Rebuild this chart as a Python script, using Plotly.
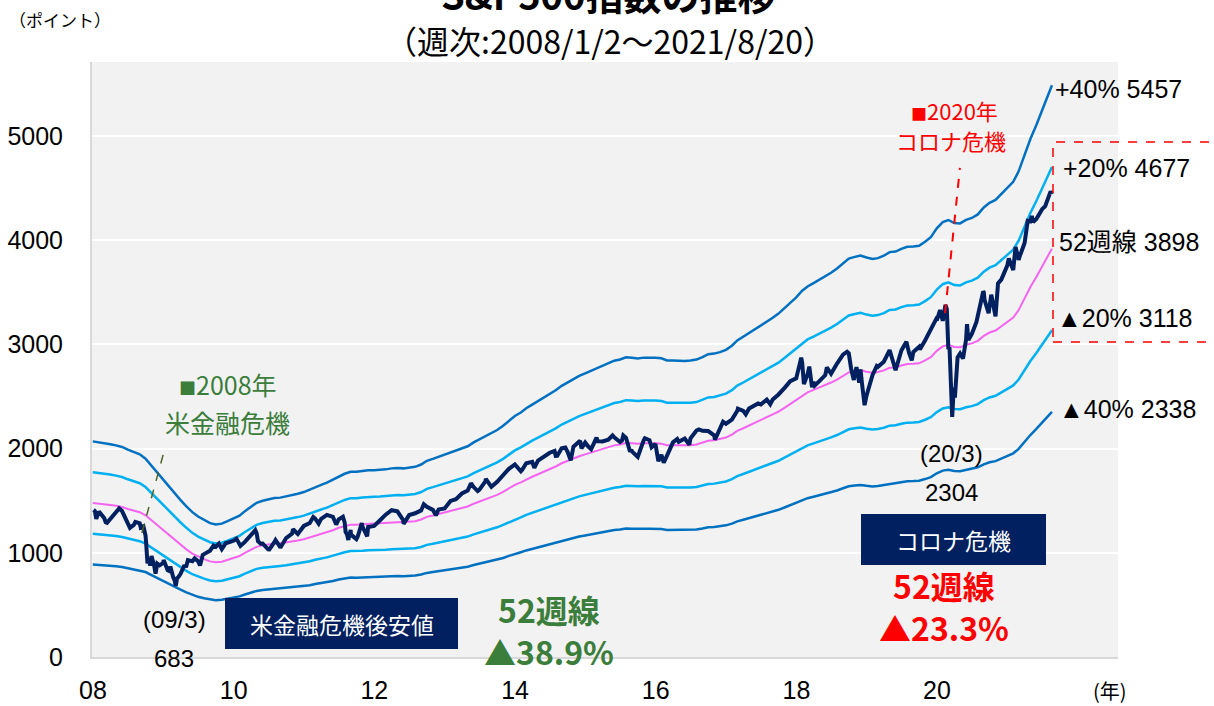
import pandas as pd
import numpy as np
import plotly.graph_objects as go

# ---------------- data ----------------
# S&P500 month-end closes (2007-01 .. 2021-07), used for the price line and the 52-week (12-month) average
close_2007 = [1438.24, 1406.82, 1420.86, 1482.37, 1530.62, 1503.35, 1455.27, 1473.99, 1526.75, 1549.38, 1481.14, 1468.36]
close_2008 = [1378.55, 1330.63, 1322.70, 1385.59, 1400.38, 1280.00, 1267.38, 1282.83, 1166.36, 968.75, 896.24, 903.25]
close_2009 = [825.88, 735.09, 797.87, 872.81, 919.14, 919.32, 987.48, 1020.62, 1057.08, 1036.19, 1095.63, 1115.10]
close_2010 = [1073.87, 1104.49, 1169.43, 1186.69, 1089.41, 1030.71, 1101.60, 1049.33, 1141.20, 1183.26, 1180.55, 1257.64]
close_2011 = [1286.12, 1327.22, 1325.83, 1363.61, 1345.20, 1320.64, 1292.28, 1218.89, 1131.42, 1253.30, 1246.96, 1257.60]
close_2012 = [1312.41, 1365.68, 1408.47, 1397.91, 1310.33, 1362.16, 1379.32, 1406.58, 1440.67, 1412.16, 1416.18, 1426.19]
close_2013 = [1498.11, 1514.68, 1569.19, 1597.57, 1630.74, 1606.28, 1685.73, 1632.97, 1681.55, 1756.54, 1805.81, 1848.36]
close_2014 = [1782.59, 1859.45, 1872.34, 1883.95, 1923.57, 1960.23, 1930.67, 2003.37, 1972.29, 2018.05, 2067.56, 2058.90]
close_2015 = [1994.99, 2104.50, 2067.89, 2085.51, 2107.39, 2063.11, 2103.84, 1972.18, 1920.03, 2079.36, 2080.41, 2043.94]
close_2016 = [1940.24, 1932.23, 2059.74, 2065.30, 2096.95, 2098.86, 2173.60, 2170.95, 2168.27, 2126.15, 2198.81, 2238.83]
close_2017 = [2278.87, 2363.64, 2362.72, 2384.20, 2411.80, 2423.41, 2470.30, 2471.65, 2519.36, 2575.26, 2647.58, 2673.61]
close_2018 = [2823.81, 2713.83, 2640.87, 2648.05, 2705.27, 2718.37, 2816.29, 2901.52, 2913.98, 2711.74, 2760.17, 2506.85]
close_2019 = [2704.10, 2784.49, 2834.40, 2945.83, 2752.06, 2941.76, 2980.38, 2926.46, 2976.74, 3037.56, 3140.98, 3230.78]
close_2020 = [3225.52, 2954.22, 2584.59, 2912.43, 3044.31, 3100.29, 3271.12, 3500.31, 3363.00, 3269.96, 3621.63, 3756.07]
close_2021 = [3714.24, 3811.15, 3972.89, 4181.17, 4204.11, 4297.50, 4395.26]
last_date = "2021-08-20"
last_close = 4441.67

# additional weekly closes (Friday) inside the period
week_dates = [
    "2008-01-04", "2008-01-11", "2008-01-18", "2008-02-01", "2008-03-07", "2008-03-14", "2008-05-16",
    "2008-07-11", "2008-08-08", "2008-09-05", "2008-09-19", "2008-09-26", "2008-10-03", "2008-10-10",
    "2008-10-17", "2008-10-24", "2008-11-07", "2008-11-14", "2008-11-21", "2008-12-12", "2009-01-02",
    "2009-01-09", "2009-01-23", "2009-02-06", "2009-02-20", "2009-03-06", "2009-03-13", "2009-03-20",
    "2009-04-17", "2009-05-08", "2009-06-12", "2009-07-10", "2009-07-24", "2009-09-18", "2009-10-16",
    "2009-11-20", "2010-01-15", "2010-02-05", "2010-04-23", "2010-05-07", "2010-05-21", "2010-07-02",
    "2010-08-06", "2010-08-27", "2010-11-05", "2011-02-18", "2011-03-18", "2011-06-17", "2011-07-22",
    "2011-08-05", "2011-08-12", "2011-08-19", "2011-09-02", "2011-09-23", "2011-10-07", "2011-10-28",
    "2011-11-25", "2012-06-01", "2012-09-14", "2012-11-16", "2013-05-17", "2013-06-21", "2013-08-02",
    "2013-10-11", "2014-02-07", "2014-04-11", "2014-07-25", "2014-08-08", "2014-09-19", "2014-10-17",
    "2014-12-05", "2014-12-12", "2015-01-16", "2015-03-06", "2015-05-22", "2015-07-10", "2015-07-17",
    "2015-08-21", "2015-08-28", "2015-09-25", "2015-11-06", "2015-12-11", "2016-01-15", "2016-02-12",
    "2016-04-22", "2016-06-24", "2016-08-12", "2016-11-04", "2016-12-16", "2017-03-03", "2017-04-13",
    "2017-06-16", "2017-08-18", "2017-11-03", "2018-01-26", "2018-02-09", "2018-03-09", "2018-03-23",
    "2018-04-06", "2018-06-08", "2018-09-21", "2018-10-12", "2018-10-26", "2018-11-09", "2018-11-23",
    "2018-12-07", "2018-12-21", "2019-01-04", "2019-02-22", "2019-04-26", "2019-07-26", "2019-08-09",
    "2019-08-23", "2019-10-04", "2019-12-27", "2020-01-17", "2020-02-14", "2020-02-21", "2020-03-06",
    "2020-03-13", "2020-03-20", "2020-03-27", "2020-04-03", "2020-04-17", "2020-05-15", "2020-06-05",
    "2020-06-12", "2020-07-24", "2020-08-28", "2020-09-04", "2020-09-25", "2020-10-09", "2020-11-13",
    "2020-12-18", "2021-01-08", "2021-02-12", "2021-03-05", "2021-03-19", "2021-04-16", "2021-05-07",
    "2021-05-14", "2021-06-25", "2021-07-16", "2021-08-13",
]
week_close = [
    1411.63, 1401.02, 1325.19, 1395.42, 1293.37, 1288.14, 1425.35,
    1239.49, 1296.32, 1242.31, 1255.08, 1213.27, 1099.23, 899.22,
    940.55, 876.77, 930.99, 873.29, 800.03, 879.73, 931.80,
    890.35, 831.95, 868.60, 770.05, 683.38, 756.55, 768.54,
    869.60, 929.23, 946.21, 879.13, 979.26, 1068.30, 1087.68,
    1091.38, 1136.03, 1066.19, 1217.28, 1110.88, 1087.69, 1022.58,
    1121.64, 1064.59, 1225.85, 1343.01, 1279.20, 1271.50, 1345.02,
    1199.38, 1178.81, 1123.53, 1173.97, 1136.43, 1155.46, 1285.09,
    1158.67, 1278.04, 1465.77, 1359.88, 1667.47, 1592.43, 1709.67,
    1703.20, 1797.02, 1815.69, 1978.34, 1931.59, 2010.40, 1886.76,
    2075.37, 2002.33, 2019.42, 2071.26, 2126.06, 2076.62, 2126.64,
    1970.89, 1988.87, 1931.34, 2099.20, 2012.37, 1880.33, 1864.78,
    2091.58, 2037.41, 2184.05, 2085.18, 2258.07, 2383.12, 2328.95,
    2433.15, 2425.55, 2587.84, 2872.87, 2619.55, 2786.57, 2588.26,
    2604.47, 2779.03, 2929.67, 2767.13, 2658.69, 2781.01, 2632.56,
    2633.08, 2416.62, 2531.94, 2792.67, 2939.88, 3025.86, 2918.65,
    2847.11, 2952.01, 3240.02, 3329.62, 3380.16, 3337.75, 2972.37,
    2711.02, 2304.92, 2541.47, 2488.65, 2874.56, 2863.70, 3193.93,
    3041.31, 3215.63, 3508.01, 3426.96, 3298.46, 3477.13, 3585.15,
    3709.41, 3824.68, 3934.83, 3841.94, 3913.10, 4185.47, 4232.60,
    4173.85, 4280.70, 4327.16, 4468.00,
]

band_names = ["+40%", "+20%", "52週線", "▲20%", "▲40%"]
band_factors = [1.4, 1.2, 1.0, 0.8, 0.6]
band_label_values = ["5457", "4677", "3898", "3118", "2338"]
band_colors = ["#0070C0", "#00B0F0", "#F564F0", "#00B0F0", "#0070C0"]
band_widths = [2.5, 2.5, 2, 2.5, 2.5]

x_tick_years = [2008, 2010, 2012, 2014, 2016, 2018, 2020]
x_tick_text = ["08", "10", "12", "14", "16", "18", "20"]
y_ticks = [0, 1000, 2000, 3000, 4000, 5000]

# ---------------- series ----------------
monthly_vals = (close_2007 + close_2008 + close_2009 + close_2010 + close_2011 + close_2012 + close_2013
                + close_2014 + close_2015 + close_2016 + close_2017 + close_2018 + close_2019 + close_2020
                + close_2021)
monthly_dates = list(pd.date_range(start="2007-01-31", periods=len(monthly_vals), freq=pd.offsets.MonthEnd()))
monthly = pd.Series(monthly_vals + [last_close], index=pd.DatetimeIndex(monthly_dates + [pd.Timestamp(last_date)]))
ma = monthly.rolling(12).mean().dropna()

weekly = pd.Series(week_close, index=pd.to_datetime(week_dates))
price = pd.concat([monthly[monthly.index >= "2008-01-01"], weekly])
price = price[~price.index.duplicated()].sort_index()

FONT = "Liberation Sans, Noto Sans CJK JP, sans-serif"
JFONT = "Noto Sans CJK JP, Liberation Sans, sans-serif"

fig = go.Figure()
for name, f, col, w in zip(band_names, band_factors, band_colors, band_widths):
    fig.add_trace(go.Scatter(x=ma.index, y=ma.values * f, mode="lines", name=name,
                             line=dict(color=col, width=w), hoverinfo="skip"))
fig.add_trace(go.Scatter(x=price.index, y=price.values, mode="lines", name="S&P500",
                         line=dict(color="#002060", width=4)))

# ---------------- layout ----------------
L, R, T, B = 92, 1118, 62, 657
W, H = 1214, 706

def px(x):
    return (x - L) / (R - L)

def py(y):
    return (B - y) / (B - T)

fig.update_layout(
    width=W, height=H,
    margin=dict(l=L, r=W - R, t=T, b=H - B, pad=0),
    paper_bgcolor="white", plot_bgcolor="#F2F2F2",
    showlegend=False,
    font=dict(family=FONT, color="black"),
)
fig.update_xaxes(
    type="date", range=["2007-12-27", "2022-07-29"], automargin=False,
    tickvals=[f"{y}-01-01" for y in x_tick_years], ticktext=x_tick_text,
    showgrid=False, zeroline=False,
    showline=True, linecolor="#D9D9D9", linewidth=2,
    ticks="outside", ticklen=10, tickcolor="rgba(0,0,0,0)",
    tickfont=dict(family="Liberation Sans Narrow, Liberation Sans, sans-serif", size=25, color="black"),
)
fig.update_yaxes(
    range=[0, 5710], tickvals=y_ticks, automargin=False,
    showgrid=True, gridcolor="white", gridwidth=2, zeroline=False,
    showline=True, linecolor="#D9D9D9", linewidth=2,
    ticks="outside", ticklen=22, tickcolor="rgba(0,0,0,0)",
    tickfont=dict(family=FONT, size=25, color="black"),
)

ann = []
def add_text(x, y, text, size, color="black", family=JFONT, bold=False, xanchor="center"):
    t = f"<b>{text}</b>" if bold else text
    ann.append(dict(x=px(x), y=py(y), xref="paper", yref="paper", text=t, showarrow=False,
                    xanchor=xanchor, yanchor="middle", font=dict(size=size, color=color, family=family)))

# titles
add_text(608, -6, "S&P500指数の推移", 38, bold=True)
add_text(610, 40, "（週次:2008/1/2～2021/8/20）", 32)
add_text(60, 19, "（ポイント）", 17)
add_text(1110, 690, "(年)", 20)

# 2008 crisis
GREEN = "#3B7D3B"
add_text(228, 384, "<span style='font-size:17px'>■</span>2008年", 25, color=GREEN)
add_text(227, 422, "米金融危機", 25, color=GREEN)
add_text(174, 619, "(09/3)", 24, family=FONT)
add_text(174, 658, "683", 24, family=FONT)
add_text(549, 630, "52週線<br>▲38.9%", 32, color=GREEN, bold=True)

# 2020 crisis
RED = "#FF0000"
add_text(954, 110, "<span style='font-size:16px'>■</span>2020年", 22, color=RED)
add_text(951, 140, "コロナ危機", 22, color=RED)
add_text(951, 453, "(20/3)", 24, family=FONT)
add_text(951, 492, "2304", 24, family=FONT)
add_text(944, 606, "52週線<br>▲23.3%", 32, color=RED, bold=True)

# boxes
shapes = []
for (x0, y0, x1, y1, label) in [(225, 598, 458, 649, "米金融危機後安値"), (861, 514, 1046, 565, "コロナ危機")]:
    shapes.append(dict(type="rect", xref="paper", yref="paper", x0=px(x0), x1=px(x1), y0=py(y1), y1=py(y0),
                       fillcolor="#002060", line=dict(width=0), layer="above"))
    add_text((x0 + x1) / 2, (y0 + y1) / 2, label, 23, color="white")

# right-hand band labels
label_pos = [(1053, 89), (1061, 168), (1057, 242), (1055, 318), (1057, 409)]
for (lx, ly), name, val in zip(label_pos, band_names, band_label_values):
    add_text(lx, ly, f"{name} {val}", 25, family=FONT, xanchor="left")

# dashed pointer lines (data coordinates)
shapes.append(dict(type="line", xref="x", yref="y", x0="2008-09-11", y0=1190, x1="2009-01-09", y1=2006,
                   line=dict(color="#4F6228", width=1.5, dash="dash"), layer="above"))
shapes.append(dict(type="line", xref="x", yref="y", x0="2020-02-12", y0=3300, x1="2020-04-29", y1=4693,
                   line=dict(color="#FF0000", width=2, dash="dash"), layer="above"))
# dashed highlight box
shapes.append(dict(type="rect", xref="paper", yref="paper", x0=px(1053), x1=px(1220), y0=py(342), y1=py(142),
                   line=dict(color="#FF0000", width=1.5, dash="dash"), fillcolor="rgba(0,0,0,0)", layer="above"))

fig.update_layout(annotations=ann, shapes=shapes)
fig.write_html("out.html")
